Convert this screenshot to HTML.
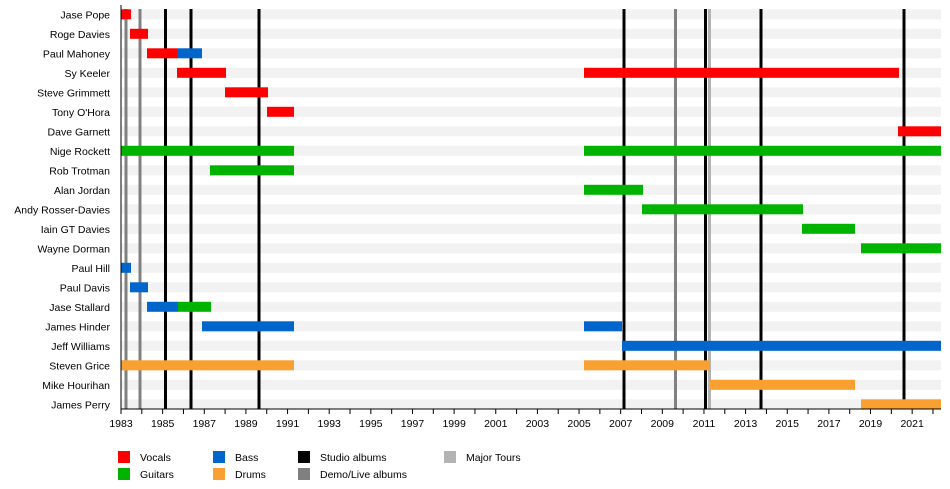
<!DOCTYPE html>
<html><head><meta charset="utf-8"><style>
html,body{margin:0;padding:0;background:#fff;}
svg{display:block;font-family:"Liberation Sans",Arial,sans-serif;}
</style></head><body>
<svg width="950" height="489" xmlns="http://www.w3.org/2000/svg">
<g id="bands" fill="#f2f2f2"></g>
<g id="lines"></g>
<g id="bars"></g>
<g id="labels" font-size="10.5" text-anchor="end" fill="#000"></g>
<line x1="121" y1="5" x2="121" y2="409" stroke="#000" stroke-width="1"/>
<line x1="121" y1="409" x2="941" y2="409" stroke="#000" stroke-width="1"/>
<g id="axis" font-size="10.5" text-anchor="middle"></g>
<g font-size="10.5">
<rect x="118" y="451" width="12" height="12" fill="#ff0000"/><text x="140" y="461">Vocals</text>
<rect x="118" y="468" width="12" height="12" fill="#00b300"/><text x="140" y="478">Guitars</text>
<rect x="213" y="451" width="12" height="12" fill="#0066cc"/><text x="235" y="461">Bass</text>
<rect x="213" y="468" width="12" height="12" fill="#f9a030"/><text x="235" y="478">Drums</text>
<rect x="298" y="451" width="12" height="12" fill="#000"/><text x="320" y="461">Studio albums</text>
<rect x="298" y="468" width="12" height="12" fill="#808080"/><text x="320" y="478">Demo/Live albums</text>
<rect x="444" y="451" width="12" height="12" fill="#b3b3b3"/><text x="466" y="461">Major Tours</text>
</g>
</svg>
<script>
const ns="http://www.w3.org/2000/svg";
function el(p,t,a,txt){const e=document.createElementNS(ns,t);for(const k in a)e.setAttribute(k,a[k]);if(txt!==undefined)e.textContent=txt;document.getElementById(p).appendChild(e);}
const names=["Jase Pope","Roge Davies","Paul Mahoney","Sy Keeler","Steve Grimmett","Tony O'Hora","Dave Garnett","Nige Rockett","Rob Trotman","Alan Jordan","Andy Rosser-Davies","Iain GT Davies","Wayne Dorman","Paul Hill","Paul Davis","Jase Stallard","James Hinder","Jeff Williams","Steven Grice","Mike Hourihan","James Perry"];
const R="#ff0000",G="#00b300",B="#0066cc",O="#f9a030";
const bars=[
[[121,131,R]],[[130,148,R]],[[147,177,R],[177,202,B]],[[177,226,R],[584,899,R]],[[225,268,R]],[[267,294,R]],[[898,941,R]],
[[121,294,G],[584,941,G]],[[210,294,G]],[[584,643,G]],[[642,803,G]],[[802,855,G]],[[861,941,G]],
[[121,131,B]],[[130,148,B]],[[147,178,B],[178,211,G]],[[202,294,B],[584,622,B]],[[622,941,B]],
[[121,294,O],[584,710,O]],[[710,855,O]],[[861,941,O]]];
names.forEach((n,i)=>{const y=9.3+19.5*i;
el("bands","rect",{x:121,y:y,width:820,height:10});
el("labels","text",{x:110,y:y+9},n);
bars[i].forEach(b=>el("bars","rect",{x:b[0],y:y,width:b[1]-b[0],height:10,fill:b[2]}));});
[[126,"#808080"],[140,"#808080"],[165.5,"#000"],[191,"#000"],[259,"#000"],[624,"#000"],[675.5,"#808080"],[705.5,"#000"],[709.5,"#b3b3b3"],[761,"#000"],[904,"#000"]].forEach(l=>el("lines","line",{x1:l[0],y1:9,x2:l[0],y2:409,stroke:l[1],"stroke-width":3}));
for(let yr=1983;yr<=2022;yr++){const x=121+(yr-1983)*20.82;
el("axis","line",{x1:x,y1:409,x2:x,y2:414,stroke:"#000","stroke-width":1});
if(yr%2==1)el("axis","text",{x:x,y:427},String(yr));}
</script>
</body></html>
